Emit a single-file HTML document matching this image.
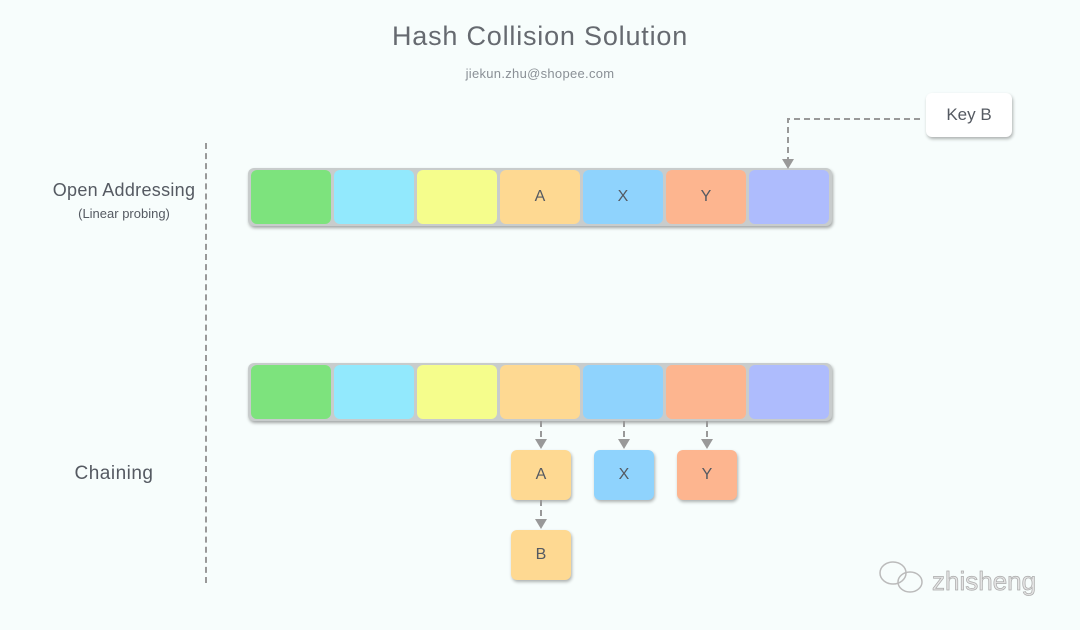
<!DOCTYPE html>
<html><head><style>
body{margin:0;width:1080px;height:630px;background:#f7fdfc;font-family:"Liberation Sans",sans-serif;position:relative;overflow:hidden}
.a{position:absolute}
.strip{position:absolute;background:#c8cccc;border-radius:6px;box-shadow:1px 2px 3px rgba(0,0,0,.35)}
.c{position:absolute;width:80px;height:54px;border-radius:6px;color:#555a62;font-size:16px;display:flex;align-items:center;justify-content:center}
.n{position:absolute;width:60px;height:50px;border-radius:6px;color:#555a62;font-size:16px;display:flex;align-items:center;justify-content:center;box-shadow:1px 2px 3px rgba(0,0,0,.3)}
</style></head><body>
<div class="a" style="left:0;width:1080px;top:21px;text-align:center;font-size:27px;letter-spacing:0.8px;color:#666a70">Hash Collision Solution</div>
<div class="a" style="left:0;width:1080px;top:66px;text-align:center;font-size:13px;letter-spacing:0.3px;color:#8a9096">jiekun.zhu@shopee.com</div>
<div class="a" style="left:205px;top:143px;height:440px;border-left:2px dashed #999"></div>
<div class="a" style="left:34px;width:180px;top:180px;text-align:center;font-size:18px;letter-spacing:0.3px;color:#555a62">Open Addressing</div>
<div class="a" style="left:34px;width:180px;top:206px;text-align:center;font-size:13px;color:#555a62">(Linear probing)</div>
<div class="a" style="left:24px;width:180px;top:463px;text-align:center;font-size:19px;letter-spacing:0.5px;color:#555a62">Chaining</div>

<div class="strip" style="left:248px;top:168px;width:584px;height:58px"></div>
<div class="c" style="left:251px;top:170px;background:#7de37d"></div>
<div class="c" style="left:334px;top:170px;background:#92e9fd"></div>
<div class="c" style="left:417px;top:170px;background:#f5fd8c"></div>
<div class="c" style="left:500px;top:170px;background:#fed992">A</div>
<div class="c" style="left:583px;top:170px;background:#8fd3fd">X</div>
<div class="c" style="left:666px;top:170px;background:#fdb58f">Y</div>
<div class="c" style="left:749px;top:170px;background:#aebcfd"></div>

<div class="a" style="left:926px;top:93px;width:86px;height:44px;background:#fff;border-radius:6px;box-shadow:1px 2px 3px rgba(0,0,0,.3);display:flex;align-items:center;justify-content:center;font-size:17px;color:#555a62">Key B</div>

<div class="strip" style="left:248px;top:363px;width:584px;height:58px"></div>
<div class="c" style="left:251px;top:365px;background:#7de37d"></div>
<div class="c" style="left:334px;top:365px;background:#92e9fd"></div>
<div class="c" style="left:417px;top:365px;background:#f5fd8c"></div>
<div class="c" style="left:500px;top:365px;background:#fed992"></div>
<div class="c" style="left:583px;top:365px;background:#8fd3fd"></div>
<div class="c" style="left:666px;top:365px;background:#fdb58f"></div>
<div class="c" style="left:749px;top:365px;background:#aebcfd"></div>

<div class="n" style="left:511px;top:450px;background:#fed992">A</div>
<div class="n" style="left:594px;top:450px;background:#8fd3fd">X</div>
<div class="n" style="left:677px;top:450px;background:#fdb58f">Y</div>
<div class="n" style="left:511px;top:530px;background:#fed992">B</div>

<svg class="a" style="left:0;top:0" width="1080" height="630">
<g stroke="#999" stroke-width="2" fill="none" stroke-dasharray="6,4">
<path d="M920 119 H788 V160"/>
<path d="M541 421 V440"/><path d="M624 421 V440"/><path d="M707 421 V440"/>
<path d="M541 500 V520"/>
</g>
<g fill="#999">
<path d="M782 159 L794 159 L788 169Z"/>
<path d="M535 439 L547 439 L541 449Z"/><path d="M618 439 L630 439 L624 449Z"/><path d="M701 439 L713 439 L707 449Z"/>
<path d="M535 519 L547 519 L541 529Z"/>
</g>
<g fill="none" stroke="#bbb" stroke-width="1.5">
<ellipse cx="893" cy="573" rx="13" ry="11"/>
<ellipse cx="910" cy="582" rx="12" ry="10"/>
</g>
<text x="932" y="590" font-family="Liberation Sans" font-size="26" fill="#e4e4e4" stroke="#aaa" stroke-width="0.7">zhisheng</text>
</svg>
</body></html>
